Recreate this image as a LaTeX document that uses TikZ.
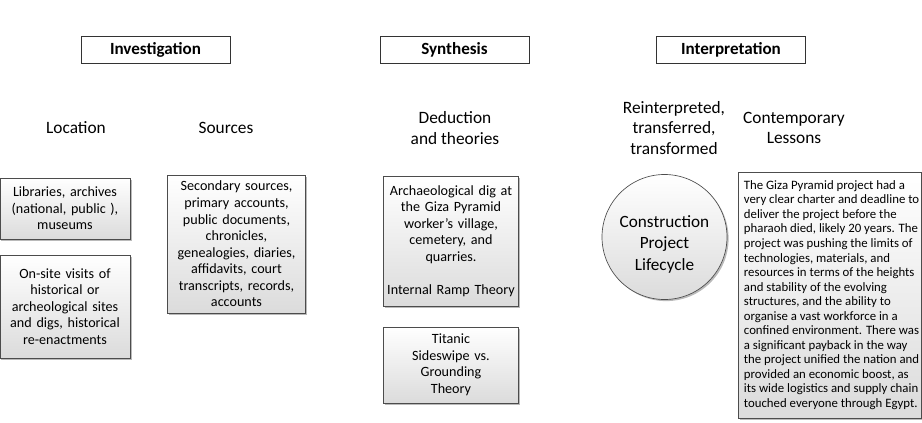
\documentclass[tikz,border=0pt]{standalone}
\usepackage{fontspec}
\setmainfont{Carlito}
\usetikzlibrary{shadows}
\begin{document}
\begin{tikzpicture}[x=0.75pt,y=-0.75pt,
  hdr/.style={draw=black!80,line width=0.6pt,fill=white,minimum width=149*0.75pt,minimum height=27*0.75pt,inner sep=0pt,font=\fontsize{12.8}{14}\selectfont\bfseries},
  lbl/.style={align=center,inner sep=0pt,font=\fontsize{13}{15.4}\selectfont},
  card/.style={draw=black!70,line width=0.5pt,top color=white,bottom color=black!14,
    drop shadow={shadow xshift=1.2pt,shadow yshift=-1.2pt,fill=black!45,opacity=0.6},
    align=center,inner sep=2pt,font=\fontsize{10.6}{12.4}\selectfont},
  ]
\useasboundingbox (0,0) rectangle (922,422);
% headers
\node[hdr] (inv) at (155.5,49.5) {Investigation};
\node[hdr] (syn) at (454.5,49.5) {Synthesis};
\node[hdr] (int) at (731,49.5) {Interpretation};
% labels
\node[lbl] (loc) at (76,128) {Location};
\node[lbl] (src) at (226,128) {Sources};
\node[lbl] (ded) at (455,128) {Deduction\\and theories};
\node[lbl] (rei) at (674,128) {Reinterpreted,\\transferred,\\transformed};
\node[lbl] (con) at (794,128) {Contemporary\\Lessons};
% cards
\node[card,minimum width=129*0.75pt,minimum height=61*0.75pt,text width=125*0.75pt] (lib) at (65,208.5) {Libraries, archives\\(national, public ),\\museums};
\node[card,minimum width=129*0.75pt,minimum height=103*0.75pt,text width=125*0.75pt] (ons) at (65,306.5) {On-site visits of\\historical or\\archeological sites\\and digs, historical\\re-enactments};
\node[card,minimum width=137*0.75pt,minimum height=138*0.75pt,text width=133*0.75pt] (sec) at (236.5,244) {Secondary sources,\\primary accounts,\\public documents,\\chronicles,\\genealogies, diaries,\\affidavits, court\\transcripts, records,\\accounts};
\node[card,minimum width=134*0.75pt,minimum height=130*0.75pt,text width=130*0.75pt] (arc) at (451,241) {Archaeological dig at\\the Giza Pyramid\\worker’s village,\\cemetery, and\\quarries.\\[12.4pt]Internal Ramp Theory};
\node[card,minimum width=134*0.75pt,minimum height=76*0.75pt,text width=130*0.75pt] (tit) at (451,365) {Titanic\\Sideswipe vs.\\Grounding\\Theory};
\node[card,circle,minimum size=125*0.75pt,inner sep=0pt] (cpl) at (664.5,237) {};
\node[align=center,inner sep=0pt,font=\fontsize{12.9}{16}\selectfont] (cplt) at ([yshift=-5.5pt]cpl.center) {Construction\\Project\\Lifecycle};
\node[card,minimum width=183*0.75pt,minimum height=246*0.75pt,inner sep=0pt] (gp) at (829.5,295) {};
\node[align=left,inner sep=0pt,font=\fontsize{9.6}{10.9}\selectfont,anchor=west] (gpt) at ([xshift=4.5pt]gp.west) {The Giza Pyramid project had a\\very clear charter and deadline to\\deliver the project before the\\pharaoh died, likely 20 years. The\\project was pushing the limits of\\technologies, materials, and\\resources in terms of the heights\\and stability of the evolving\\structures, and the ability to\\organise a vast workforce in a\\confined environment. There was\\a significant payback in the way\\the project unified the nation and\\provided an economic boost, as\\its wide logistics and supply chain\\touched everyone through Egypt.};
\end{tikzpicture}
\end{document}
